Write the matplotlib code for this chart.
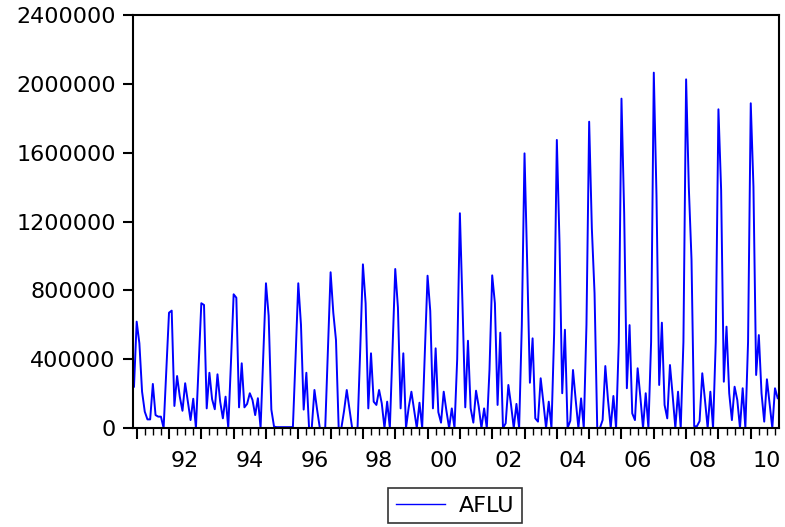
import numpy as np
import matplotlib.pyplot as plt
from matplotlib.ticker import FixedLocator, NullFormatter
from matplotlib.transforms import blended_transform_factory

# monthly series, 1990:12 - 2010:11
aflu_1990 = [240000]
aflu_1991 = [618000, 492000, 211000, 95000, 50000, 50000, 256000, 75000, 66000, 66000, 0, 330000]
aflu_1992 = [670000, 682000, 128000, 302000, 182000, 100000, 260000, 153000, 46000, 170000, 0, 360000]
aflu_1993 = [725000, 715000, 114000, 321000, 167000, 109000, 312000, 153000, 56000, 182000, 0, 380000]
aflu_1994 = [777000, 757000, 120000, 376000, 120000, 140000, 202000, 163000, 75000, 173000, 0, 420000]
aflu_1995 = [841000, 652000, 107000, 8000, 5000, 5000, 5000, 5000, 5000, 5000, 5000, 414000]
aflu_1996 = [841000, 600000, 107000, 321000, 0, 0, 221000, 105000, 0, 0, 0, 455000]
aflu_1997 = [905000, 670000, 511000, 0, 0, 100000, 221000, 110000, 0, 0, 0, 455000]
aflu_1998 = [951000, 725000, 114000, 434000, 153000, 134000, 221000, 143000, 0, 153000, 0, 470000]
aflu_1999 = [924000, 700000, 114000, 434000, 0, 120000, 211000, 105000, 0, 147000, 0, 450000]
aflu_2000 = [885000, 680000, 114000, 463000, 92000, 31000, 211000, 100000, 0, 114000, 0, 400000]
aflu_2001 = [1248000, 700000, 120000, 507000, 114000, 31000, 217000, 124000, 0, 114000, 0, 340000]
aflu_2002 = [887000, 725000, 134000, 554000, 0, 27000, 250000, 134000, 0, 140000, 0, 600000]
aflu_2003 = [1596000, 950000, 263000, 521000, 56000, 37000, 289000, 148000, 0, 153000, 0, 550000]
aflu_2004 = [1674000, 1073000, 202000, 571000, 0, 42000, 337000, 163000, 0, 172000, 0, 600000]
aflu_2005 = [1780000, 1160000, 783000, 0, 0, 46000, 360000, 163000, 0, 186000, 0, 500000]
aflu_2006 = [1914000, 1250000, 231000, 598000, 85000, 46000, 347000, 182000, 0, 202000, 0, 500000]
aflu_2007 = [2065000, 1350000, 250000, 612000, 134000, 56000, 366000, 190000, 0, 211000, 0, 500000]
aflu_2008 = [2026000, 1400000, 980000, 10000, 10000, 40000, 318000, 163000, 0, 211000, 0, 500000]
aflu_2009 = [1852000, 1383000, 269000, 589000, 202000, 46000, 240000, 163000, 0, 231000, 0, 500000]
aflu_2010 = [1887000, 1402000, 308000, 540000, 202000, 37000, 283000, 143000, 0, 231000, 173000]

aflu = (aflu_1990 + aflu_1991 + aflu_1992 + aflu_1993 + aflu_1994 + aflu_1995
        + aflu_1996 + aflu_1997 + aflu_1998 + aflu_1999 + aflu_2000 + aflu_2001
        + aflu_2002 + aflu_2003 + aflu_2004 + aflu_2005 + aflu_2006 + aflu_2007
        + aflu_2008 + aflu_2009 + aflu_2010)

y_ticks = [0, 400000, 800000, 1200000, 1600000, 2000000, 2400000]
y_labels = ['0', '400000', '800000', '1200000', '1600000', '2000000', '2400000']
year_labels = ['92', '94', '96', '98', '00', '02', '04', '06', '08', '10']
label_years = [1992, 1994, 1996, 1998, 2000, 2002, 2004, 2006, 2008, 2010]

# time axis in fractional years, first obs 1990:12
t = 1990 + 11 / 12 + np.arange(len(aflu)) / 12

plt.rcParams['font.family'] = ['DejaVu Sans']

fig = plt.figure(figsize=(7.85, 5.27), dpi=100)
ax = fig.add_axes([133 / 785, 99 / 527, 646 / 785, 413 / 527])

line, = ax.plot(t, aflu, color='#0000ff', linewidth=1.4, label='AFLU')

ax.set_xlim(1990.886, 2010.874)
ax.set_ylim(0, 2400000)

ax.set_yticks(y_ticks)
ax.set_yticklabels(y_labels)
ax.tick_params(axis='y', direction='out', length=7.5, width=1.5, pad=5,
               labelsize=16, colors='black')

ax.xaxis.set_major_locator(FixedLocator(np.arange(1991, 2011)))
ax.xaxis.set_minor_locator(FixedLocator(np.arange(1991, 2011, 0.25)))
ax.xaxis.set_major_formatter(NullFormatter())
ax.tick_params(axis='x', which='major', direction='out', length=8, width=1.5)
ax.tick_params(axis='x', which='minor', direction='out', length=4.8, width=1.0)

# year labels sit in the middle of the year
trans = blended_transform_factory(ax.transData, ax.transAxes)
for yr, lab in zip(label_years, year_labels):
    ax.text(yr + 0.5, -0.055, lab, transform=trans, ha='center', va='top',
            fontsize=16, color='black')

for sp in ax.spines.values():
    sp.set_linewidth(1.5)
    sp.set_color('black')

leg = fig.legend(handles=[line], loc='center',
                 bbox_to_anchor=(455 / 785, 1 - 505.5 / 527),
                 fontsize=16, frameon=True, fancybox=False, shadow=False,
                 handlelength=2.2, handletextpad=0.6, borderpad=0.35,
                 borderaxespad=0)
leg.get_frame().set_edgecolor('black')
leg.get_frame().set_linewidth(1.2)
leg.get_lines()[0].set_linewidth(1.0)

fig.savefig('out.png', dpi=100)
